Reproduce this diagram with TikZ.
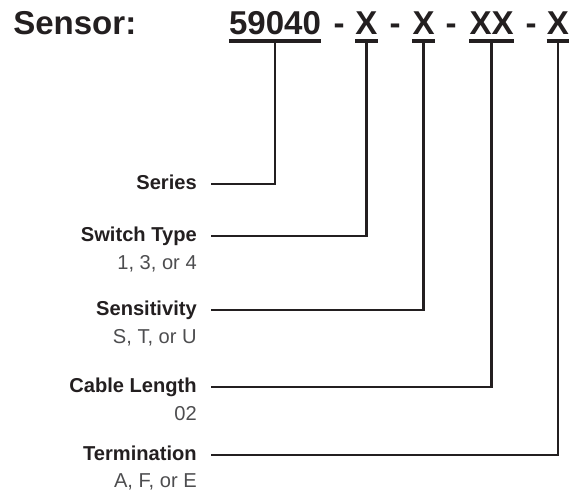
\documentclass[tikz,border=0pt]{standalone}
\usepackage{fontspec}
\setmainfont{Liberation Sans}
\usepackage{tikz}
\usetikzlibrary{calc}
\usetikzlibrary{positioning}
\usepackage{color}
\definecolor{ink}{HTML}{231F20}
\definecolor{subgray}{HTML}{4D4D4F}

\tikzset{
	code/.style={anchor=base, inner xsep=0, inner ysep=0.1375cm, text=ink, font=\fontsize{23.5}{26}\selectfont\bfseries},
	uline/.style={line width=3.2pt, ink},
	wire/.style={line width=1.8pt, ink},
	field/.style={anchor=base east, inner sep=0, text=ink, font=\fontsize{14.3}{16}\selectfont\bfseries},
	choice/.style={anchor=base east, inner sep=0, text=subgray, font=\fontsize{14.3}{16}\selectfont}
}

\begin{document}
\begin{tikzpicture}
		\useasboundingbox (0, 0) rectangle (14.35, -12.3);
		% part number
		\node[code, anchor=base west] (sensor) at (0.325, -0.875) {Sensor:};
		\node[code] (series) at (6.875, -0.875) {59040};
		\node[code] (dasha) at (8.475, -0.875) {-};
		\node[code] (switch) at (9.16, -0.875) {X};
		\node[code] (dashb) at (9.875, -0.875) {-};
		\node[code] (sens) at (10.59, -0.875) {X};
		\node[code] (dashc) at (11.275, -0.875) {-};
		\node[code] (cable) at (12.29, -0.875) {XX};
		\node[code] (dashd) at (13.275, -0.875) {-};
		\node[code] (term) at (13.95, -0.875) {X};
		% field labels
		\node[field] (lseries) at (4.925, -4.725) {Series};
		\node[field] (lswitch) at (4.925, -6.025) {Switch Type};
		\node[choice] (oswitch) at (4.925, -6.725) {1, 3, or 4};
		\node[field] (lsens) at (4.925, -7.875) {Sensitivity};
		\node[choice] (osens) at (4.925, -8.575) {S, T, or U};
		\node[field] (lcable) at (4.925, -9.8) {Cable Length};
		\node[choice] (ocable) at (4.925, -10.5) {02};
		\node[field] (lterm) at (4.925, -11.5) {Termination};
		\node[choice] (oterm) at (4.925, -12.18) {A, F, or E};
		% connectors
		\draw[wire] ([xshift=0.35cm, yshift=0.125cm]lseries.base east) -| (series.south);
		\draw[wire] ([xshift=0.35cm, yshift=0.125cm]lswitch.base east) -| (switch.south);
		\draw[wire] ([xshift=0.35cm, yshift=0.125cm]lsens.base east) -| (sens.south);
		\draw[wire] ([xshift=0.35cm, yshift=0.125cm]lcable.base east) -| (cable.south);
		\draw[wire] ([xshift=0.35cm, yshift=0.125cm]lterm.base east) -| (term.south);
		% underlines
		\draw[uline] (series.south west) -- (series.south east);
		\draw[uline] (switch.south west) -- (switch.south east);
		\draw[uline] (sens.south west) -- (sens.south east);
		\draw[uline] (cable.south west) -- (cable.south east);
		\draw[uline] (term.south west) -- (term.south east);
	\end{tikzpicture}
\end{document}
